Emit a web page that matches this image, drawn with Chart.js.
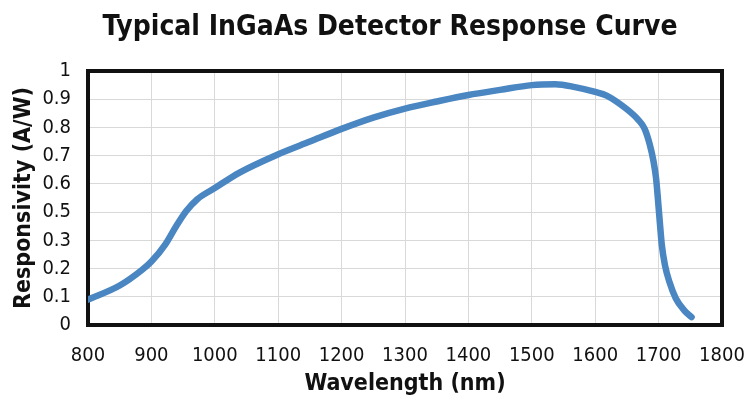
<!DOCTYPE html>
<html>
<head>
<meta charset="utf-8">
<script src="https://cdn.jsdelivr.net/npm/chart.js@4.4.1/dist/chart.umd.min.js"></script>
<style>
html, body { margin: 0; padding: 0; background: #fff; }
#wrap { width: 749px; height: 406px; }
</style>
</head>
<body>
<div id="wrap"><canvas id="chart"></canvas></div>
<script>
// wavelength (nm)
const wavelengths = [800, 850, 885, 900, 922, 939, 955, 972, 1000, 1039, 1100, 1150, 1200, 1250, 1300, 1350, 1400, 1450, 1500, 1537, 1568, 1600, 1618, 1648, 1668, 1678, 1686, 1692, 1696, 1699, 1702, 1705, 1710, 1717, 1727, 1740, 1752];
// curve height on the drawn axis (one grid step = 0.1)
const responsivity = [0.090, 0.140, 0.195, 0.225, 0.286, 0.350, 0.404, 0.445, 0.485, 0.540, 0.605, 0.650, 0.695, 0.735, 0.767, 0.792, 0.815, 0.833, 0.850, 0.853, 0.843, 0.826, 0.813, 0.768, 0.727, 0.695, 0.640, 0.580, 0.520, 0.445, 0.362, 0.285, 0.212, 0.153, 0.095, 0.053, 0.028];
// the reference labels its ten y gridlines like this (0.4 is skipped)
const yTickLabels = ['0', '0.1', '0.2', '0.3', '0.5', '0.6', '0.7', '0.8', '0.9', '1'];
const xMin = 800, xMax = 1800, xStep = 100;
const chartTitle = 'Typical InGaAs Detector Response Curve';

const FONT = "'DejaVu Sans Condensed', 'DejaVu Sans', sans-serif";
const INK = '#111';

// heavy black frame round the plot area
const frame = {
    id: 'frame',
    beforeDatasetsDraw(chart) {
        const { ctx, chartArea: a } = chart;
        ctx.save();
        ctx.lineWidth = 4;
        ctx.strokeStyle = INK;
        ctx.strokeRect(a.left, a.top, a.right - a.left, a.bottom - a.top);
        ctx.restore();
    }
};

// the title sits a bit right of the canvas centre in the reference
const headline = {
    id: 'headline',
    afterDraw(chart) {
        const ctx = chart.ctx;
        ctx.save();
        ctx.font = 'bold 28px ' + FONT;
        ctx.fillStyle = INK;
        ctx.textAlign = 'center';
        ctx.textBaseline = 'alphabetic';
        ctx.fillText(chartTitle, 390, 35);
        ctx.restore();
    }
};

new Chart(document.getElementById('chart'), {
    type: 'line',
    data: {
        datasets: [{
            data: wavelengths.map((w, i) => ({ x: w, y: responsivity[i] })),
            borderColor: '#4a86c1',
            borderWidth: 6.5,
            borderCapStyle: 'round',
            borderJoinStyle: 'round',
            pointRadius: 0,
            cubicInterpolationMode: 'monotone',
            fill: false
        }]
    },
    options: {
        responsive: true,
        maintainAspectRatio: false,
        animation: false,
        layout: { padding: { left: 0, right: 27, top: 71, bottom: 0 } },
        plugins: {
            legend: { display: false },
            tooltip: { enabled: false },
            title: { display: false }
        },
        scales: {
            x: {
                type: 'linear',
                min: xMin, max: xMax,
                afterFit(s) { s.height = 81; s.paddingLeft = 0; s.paddingRight = 0; },
                ticks: {
                    stepSize: xStep, color: INK, padding: 19,
                    autoSkip: false, maxRotation: 0, minRotation: 0,
                    font: { family: FONT, size: 20 },
                    callback: v => String(v)
                },
                grid: { color: '#d9d9d9', lineWidth: 1, drawTicks: false },
                border: { display: false },
                title: {
                    display: true, text: 'Wavelength (nm)', color: INK,
                    font: { family: FONT, size: 23, weight: 'bold' },
                    padding: { top: 0, bottom: 8 }
                }
            },
            y: {
                min: 0, max: 0.9,
                afterFit(s) { s.width = 88; s.paddingTop = 0; s.paddingBottom = 0; },
                afterBuildTicks(s) { s.ticks = yTickLabels.map((_, i) => ({ value: i / 10 })); },
                ticks: {
                    color: INK, padding: 17, autoSkip: false,
                    font: { family: FONT, size: 20 },
                    callback: (v, i) => yTickLabels[i]
                },
                grid: { color: '#d9d9d9', lineWidth: 1, drawTicks: false },
                border: { display: false },
                title: {
                    display: true, text: 'Responsivity (A/W)', color: INK,
                    font: { family: FONT, size: 23, weight: 'bold' },
                    padding: { top: 10, bottom: 0 }
                }
            }
        }
    },
    plugins: [frame, headline]
});
</script>
</body>
</html>
